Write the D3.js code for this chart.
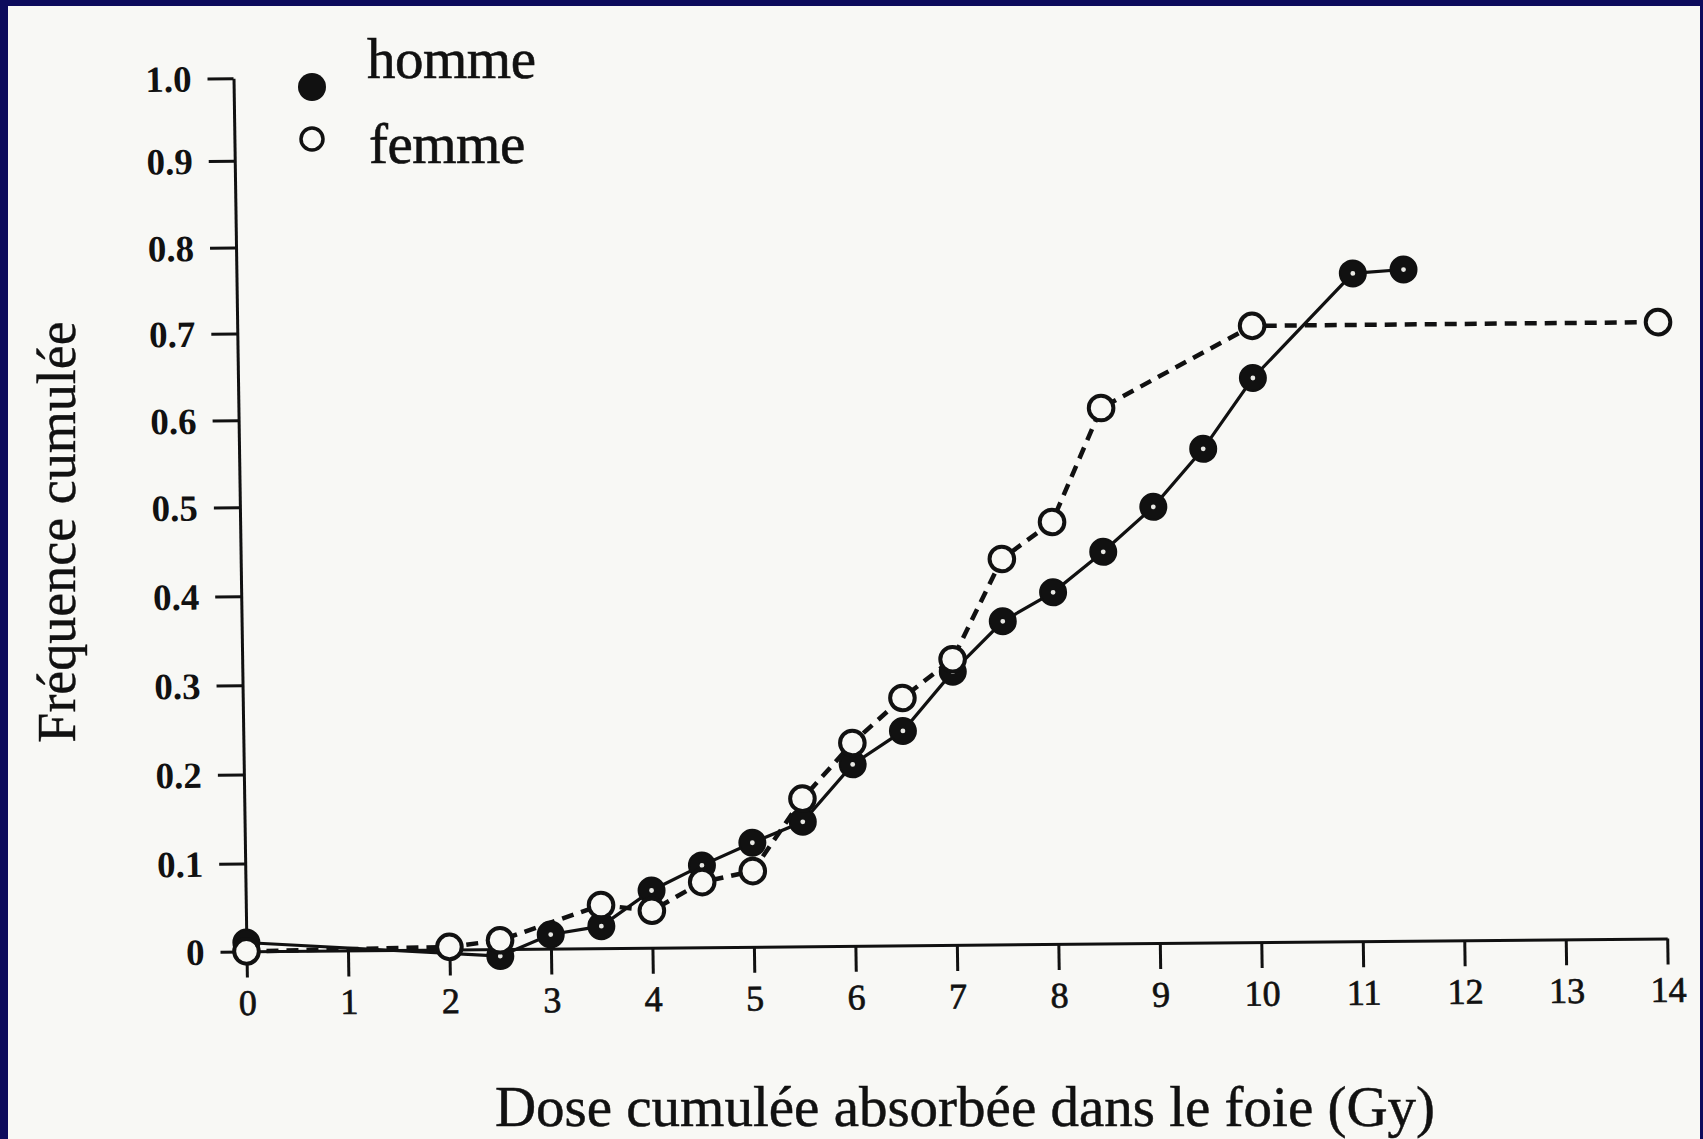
<!DOCTYPE html>
<html>
<head>
<meta charset="utf-8">
<script src="https://cdn.jsdelivr.net/npm/d3@7/dist/d3.min.js"></script>
<style>
  html, body { margin: 0; padding: 0; background: #0d0b5c; }
  svg { display: block; }
</style>
</head>
<body>
<script>
// ---- data ----
const hommeDose = [0, 2.5, 3, 3.5, 4, 4.5, 5, 5.5, 6, 6.5, 7, 7.5, 8, 8.5, 9, 9.5, 10, 11, 11.5];
const hommeFreq = [0.010, -0.008, 0.016, 0.025, 0.065, 0.093, 0.118, 0.141, 0.205, 0.242, 0.308, 0.364, 0.396, 0.441, 0.491, 0.557, 0.638, 0.758, 0.762];
const femmeDose = [0, 2, 2.5, 3.5, 4, 4.5, 5, 5.5, 6, 6.5, 7, 7.5, 8, 8.5, 10, 14];
const femmeFreq = [0, 0.003, 0.010, 0.049, 0.042, 0.074, 0.086, 0.167, 0.229, 0.279, 0.322, 0.434, 0.475, 0.605, 0.698, 0.698];
const xTicks = [0,1,2,3,4,5,6,7,8,9,10,11,12,13,14];
const yTicks = [0,0.1,0.2,0.3,0.4,0.5,0.6,0.7,0.8,0.9,1.0];
const yTickLabels = ["0","0.1","0.2","0.3","0.4","0.5","0.6","0.7","0.8","0.9","1.0"];
const legendLabels = ["homme", "femme"];
const xTitle = "Dose cumulée absorbée dans le foie (Gy)";
const yTitle = "Fréquence cumulée";

// ---- layout ----
const W = 1703, H = 1139;
const paper = "#f8f8f5", ink = "#111";
const serif = "'Liberation Serif', 'Times New Roman', serif";

const svg = d3.select("body").append("svg").attr("width", W).attr("height", H);
svg.append("rect").attr("x", 0).attr("y", 0).attr("width", W).attr("height", H).attr("fill", "#0d0b5c");
svg.append("rect").attr("x", 8).attr("y", 6).attr("width", W - 8 - 3).attr("height", H - 6).attr("fill", paper);

const plotW = 1420.7;
// scanned axis: tick spacing is slightly uneven, so use the printed tick positions
const yRange = [0, -88.0, -177.0, -266.1, -355.2, -444.2, -531.1, -618.0, -703.8, -790.7, -873.2];
const x = d3.scaleLinear().domain([0, 14]).range([0, plotW]);
const y = d3.scaleLinear().domain(yTicks).range(yRange);

// slightly skewed/rotated frame (scanned figure)
const g = svg.append("g").attr("transform", "matrix(1,-0.00915,0.01489,1,246.5,951.4)");

const yAxis = d3.axisLeft(y).tickValues(yTicks).tickSize(26).tickSizeOuter(0).tickPadding(16)
  .tickFormat((d, i) => yTickLabels[i]);
const xAxis = d3.axisBottom(x).tickValues(xTicks).tickSize(26).tickSizeOuter(0).tickPadding(12)
  .tickFormat(d => String(d));

const ya = g.append("g").call(yAxis);
const xa = g.append("g").call(xAxis);
[ya, xa].forEach(a => {
  a.select(".domain").attr("stroke", ink).attr("stroke-width", 3);
  a.selectAll(".tick line").attr("stroke", ink).attr("stroke-width", 3);
  a.selectAll(".tick text").attr("fill", ink).attr("font-family", serif);
});
ya.selectAll(".tick text").attr("font-size", 37).attr("font-weight", "bold").attr("dy", "0.34em");
xa.selectAll(".tick text").attr("font-size", 36).attr("stroke", ink).attr("stroke-width", 0.7);

const homme = hommeDose.map((d, i) => [d, hommeFreq[i]]);
const femme = femmeDose.map((d, i) => [d, femmeFreq[i]]);
const line = d3.line().x(d => x(d[0])).y(d => y(d[1]));

g.append("path").datum(homme).attr("d", line).attr("fill", "none")
  .attr("stroke", ink).attr("stroke-width", 3.2);
g.append("path").datum(femme).attr("d", line).attr("fill", "none")
  .attr("stroke", ink).attr("stroke-width", 4.5).attr("stroke-dasharray", "12,8");

const fm = g.append("g").selectAll("g").data(homme).join("g")
  .attr("transform", d => `translate(${x(d[0])},${y(d[1])})`);
fm.append("circle").attr("r", 13).attr("fill", ink).attr("stroke", ink).attr("stroke-width", 2);
fm.append("circle").attr("r", 2.4).attr("fill", "#e8e8e4");

g.append("g").selectAll("circle").data(femme).join("circle")
  .attr("cx", d => x(d[0])).attr("cy", d => y(d[1])).attr("r", 12.3)
  .attr("fill", paper).attr("stroke", ink).attr("stroke-width", 4);

// legend
const legY = [87, 139];
svg.append("circle").attr("cx", 312).attr("cy", legY[0]).attr("r", 14).attr("fill", ink);
svg.append("circle").attr("cx", 312).attr("cy", legY[1]).attr("r", 11).attr("fill", paper)
  .attr("stroke", ink).attr("stroke-width", 3.5);
svg.append("text").attr("x", 367).attr("y", 78).text(legendLabels[0])
  .attr("font-family", serif).attr("font-size", 57).attr("fill", ink)
  .attr("stroke", ink).attr("stroke-width", 0.6).attr("letter-spacing", -0.5);
svg.append("text").attr("x", 369).attr("y", 163).text(legendLabels[1])
  .attr("font-family", serif).attr("font-size", 57).attr("fill", ink)
  .attr("stroke", ink).attr("stroke-width", 0.6).attr("letter-spacing", -0.5);

// axis titles
svg.append("text").attr("x", 965).attr("y", 1126).attr("text-anchor", "middle").text(xTitle)
  .attr("font-family", serif).attr("font-size", 57).attr("fill", ink)
  .attr("stroke", ink).attr("stroke-width", 0.5);
svg.append("text").attr("transform", "translate(75,532) rotate(-90)").attr("text-anchor", "middle")
  .text(yTitle).attr("font-family", serif).attr("font-size", 54).attr("fill", ink)
  .attr("stroke", ink).attr("stroke-width", 0.4);
</script>
</body>
</html>
